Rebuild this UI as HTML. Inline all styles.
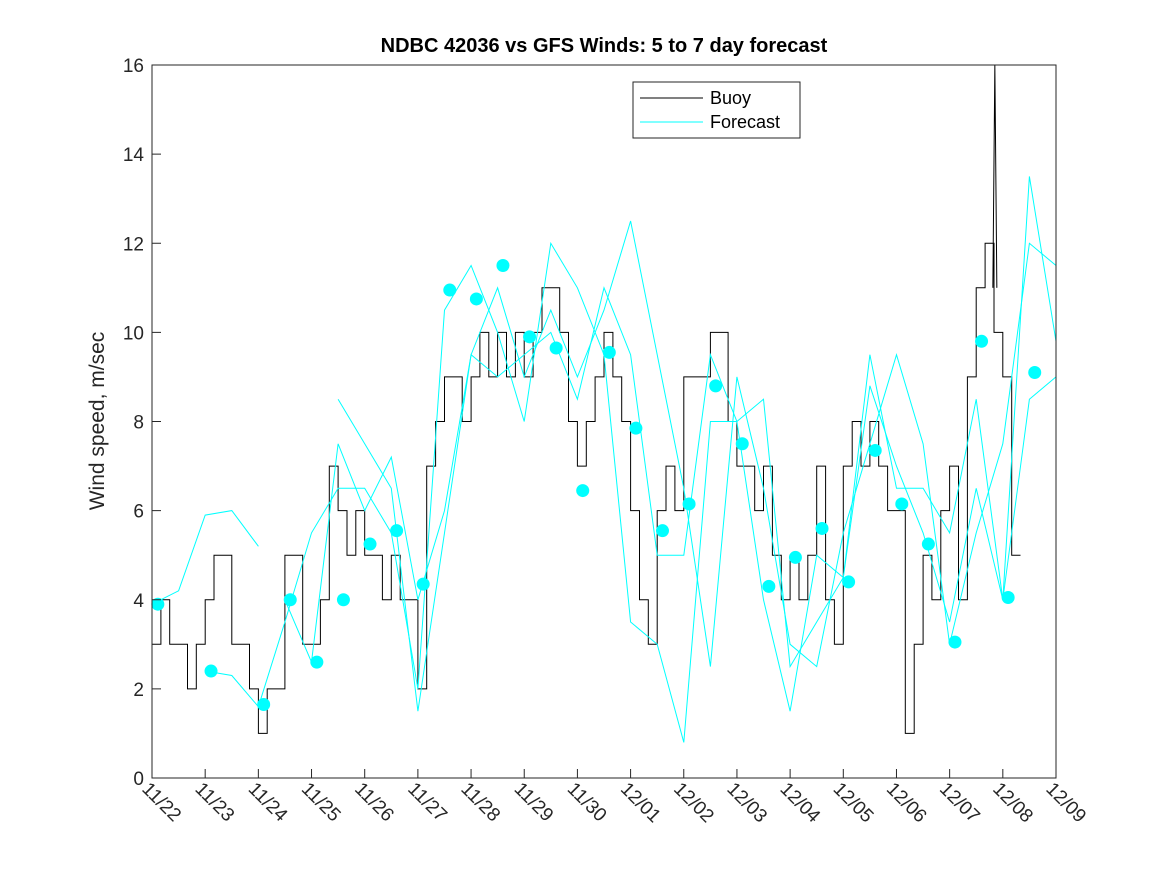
<!DOCTYPE html>
<html><head><meta charset="utf-8"><style>
body{margin:0;background:#fff;}
svg text{font-family:"Liberation Sans","DejaVu Sans",sans-serif;}
</style></head><body>
<svg id="chart" width="1167" height="875" xmlns="http://www.w3.org/2000/svg">
<rect width="1167" height="875" fill="#fff"/>
<text x="604" y="52" text-anchor="middle" font-size="20" font-weight="bold">NDBC 42036 vs GFS Winds: 5 to 7 day forecast</text>
<text transform="translate(104,421) rotate(-90)" text-anchor="middle" font-size="21" fill="#262626">Wind speed, m/sec</text>
<g id="plot"></g>
<g id="axes"></g>
<g>
<rect x="633" y="82" width="167" height="56" fill="#fff" stroke="#262626" stroke-width="1"/>
<line x1="640" y1="98" x2="703" y2="98" stroke="#000"/>
<text x="710" y="104" font-size="18" fill="#000">Buoy</text>
<line x1="640" y1="122" x2="703" y2="122" stroke="#00ffff"/>
<text x="710" y="128" font-size="18" fill="#000">Forecast</text>
</g>
</svg>
<script>
const xTickLabels=["11/22","11/23","11/24","11/25","11/26","11/27","11/28","11/29","11/30","12/01","12/02","12/03","12/04","12/05","12/06","12/07","12/08","12/09"];
const yTicks=[0,2,4,6,8,10,12,14,16];
const buoy=[3,4,3,3,2,3, 4,5,5,3,3,2, 1,2,2,5,5,3, 3,4,7,6,5,6, 5,5,4,5,4,4, 2,7,8,9,9,8, 9,10,9,10,9,10, 9,10,11,11,10,8, 7,8,9,10,9,8, 6,4,3,6,7,6, 9,9,9,10,10,8, 7,7,6,7,5,4, 5,4,5,7,4,3, 7,8,7,8,7,6, 6,1,3,5,4,6, 7,4,9,11,12,10, 9,5];
const spikeDay=16.0, spikeVal=16;
const fcA=[3.9,4.2,5.9,6.0,5.2,null,null,8.5,7.5,6.5,1.5,5.5,9.5,11.0,9.0,10.5,9.0,10.5,12.5,9.5,6.5,2.5,9.0,6.5,3.0,2.5,5.5,7.5,9.5,7.5,3.0,5.5,7.5,12.0,11.5];
const fcB=[null,null,2.4,2.3,1.6,3.5,5.5,6.5,6.5,5.5,2.0,10.5,11.5,10.0,8.0,12.0,11.0,9.5,3.5,3.0,0.8,8.0,8.0,8.5,2.5,3.5,4.5,8.8,7.0,5.5,3.5,6.5,4.0,13.5,9.8];
const fcC=[null,null,null,null,null,4.0,2.6,7.5,6.0,7.2,4.0,6.0,9.5,9.0,9.5,10.0,8.5,11.0,9.5,5.0,5.0,9.5,8.0,4.0,1.5,5.0,4.5,9.5,6.5,6.5,5.5,8.5,4.0,8.5,9.0];
const dotDays=[0.11,1.11,2.1,2.6,3.1,3.6,4.1,4.6,5.1,5.6,6.1,6.6,7.1,7.6,8.1,8.6,9.1,9.6,10.1,10.6,11.1,11.6,12.1,12.6,13.1,13.6,14.1,14.6,15.1,15.6,16.1,16.6];
const dotVals=[3.9,2.4,1.65,4.0,2.6,4.0,5.25,5.55,4.35,10.95,10.75,11.5,9.9,9.65,6.45,9.55,7.85,5.55,6.15,8.8,7.5,4.3,4.95,5.6,4.4,7.35,6.15,5.25,3.05,9.8,4.05,9.1];

const X0=152,X1=1056,Y0=778,Y1=65;
const xs=d=>X0+(X1-X0)*d/17;
const ys=v=>Y0-(Y0-Y1)*v/16;
const NS="http://www.w3.org/2000/svg";
const plot=document.getElementById('plot'),axes=document.getElementById('axes');
function mk(tag,attrs,parent){const e=document.createElementNS(NS,tag);for(const k in attrs)e.setAttribute(k,attrs[k]);parent.appendChild(e);return e;}

{
 const step=1/6; let d="";
 buoy.forEach((v,i)=>{const x=xs(i*step),y=ys(v);d+=(i===0?"M":"L")+x.toFixed(1)+","+ys(i===0?v:buoy[i-1]).toFixed(1)+" L"+x.toFixed(1)+","+y.toFixed(1)+" ";});
 d+="L"+xs(buoy.length*step).toFixed(1)+","+ys(buoy[buoy.length-1]).toFixed(1);
 const p=mk('path',{d:d,fill:'none',stroke:'#000','stroke-width':1},plot);
 
 
 const sx=xs(spikeDay-0.15);
 const s=mk('path',{d:`M${sx-2},${ys(11)} L${sx},${ys(spikeVal)} L${sx+2},${ys(11)}`,fill:'none',stroke:'#000','stroke-width':1},plot);
 
 
}
[fcA,fcB,fcC].forEach((s,k)=>{
 let d="",pen=false;
 s.forEach((v,i)=>{if(v===null){pen=false;return;}d+=(pen?"L":"M")+xs(i*0.5).toFixed(1)+","+ys(v).toFixed(1)+" ";pen=true;});
 const p=mk('path',{d:d,fill:'none',stroke:'#00ffff','stroke-width':1},plot);
 
 
});
dotDays.forEach((d,i)=>{
 const c=mk('circle',{cx:xs(d),cy:ys(dotVals[i]),r:6.5,fill:'#00ffff'},plot);
 
 
});
const box=mk('rect',{x:X0,y:Y1,width:X1-X0,height:Y0-Y1,fill:'none',stroke:'#262626','stroke-width':1},axes);


yTicks.forEach(v=>{
 const y=ys(v);
 mk('line',{x1:X0,y1:y,x2:X0+9,y2:y,stroke:'#262626'},axes);
 const t=mk('text',{x:X0-8,y:y+7,'text-anchor':'end','font-size':19,fill:'#262626'},axes);
 t.textContent=v;
 
 
});
xTickLabels.forEach((lab,i)=>{
 const x=xs(i);
 mk('line',{x1:x,y1:Y0,x2:x,y2:Y0-9,stroke:'#262626'},axes);
 const t=mk('text',{transform:`translate(${x-11},${Y0+12}) rotate(45)`,'font-size':19,fill:'#262626'},axes);
 t.textContent=lab;
 
 
});
</script>
</body></html>
